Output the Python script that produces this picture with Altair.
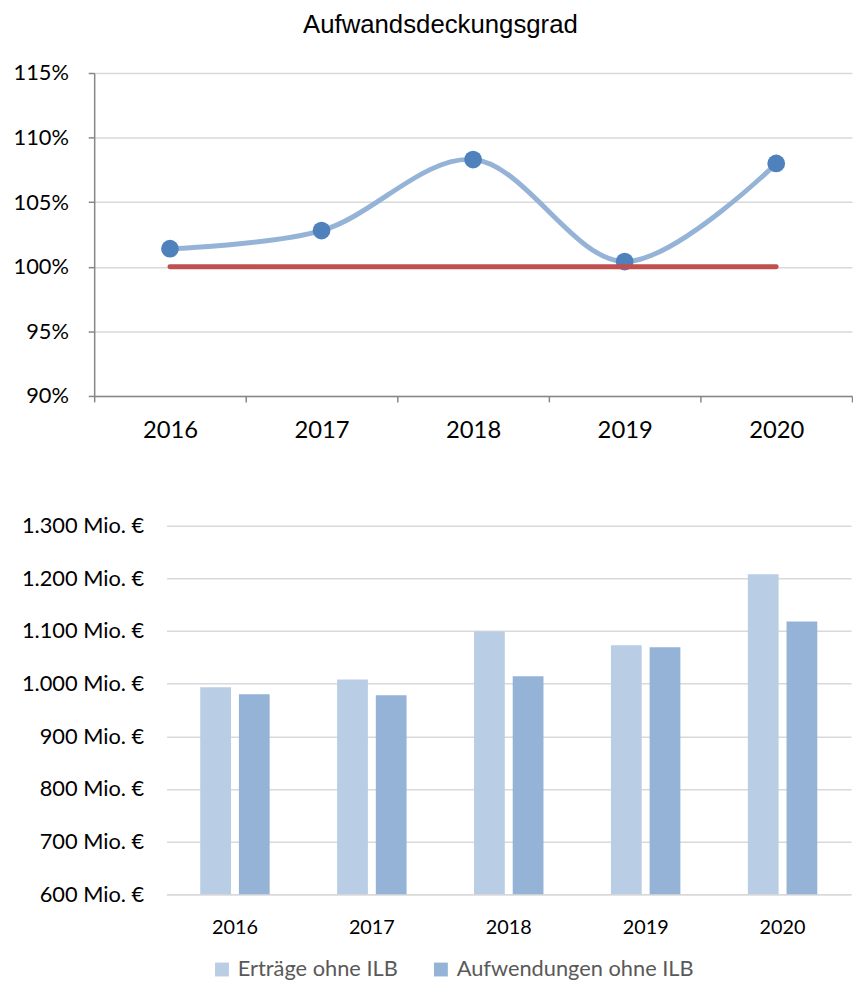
import altair as alt
import pandas as pd

# ---- data ----
years = ["2016", "2017", "2018", "2019", "2020"]
deckungsgrad = [101.4, 102.8, 108.3, 100.4, 108.0]   # Aufwandsdeckungsgrad in %
referenz = [100, 100, 100, 100, 100]                  # 100 %-Linie
pct_ticks = [90, 95, 100, 105, 110, 115]

series_names = ["Erträge ohne ILB", "Aufwendungen ohne ILB"]
ertraege = [993, 1008, 1099, 1073, 1208]               # Mio. €
aufwendungen = [980, 978, 1014, 1069, 1118]            # Mio. €
eur_ticks = [600, 700, 800, 900, 1000, 1100, 1200, 1300]
bar_colors = ["#B9CDE5", "#95B3D7"]

top_df = pd.DataFrame({"Jahr": years, "Grad": deckungsgrad, "Ref": referenz})
bar_df = pd.DataFrame({
    "Jahr": years * 2,
    "Serie": [series_names[0]] * len(years) + [series_names[1]] * len(years),
    "Wert": ertraege + aufwendungen,
})

# ---- top chart ----
x_top = alt.X(
    "Jahr:N", sort=years,
    scale=alt.Scale(paddingInner=0, paddingOuter=0),
    axis=alt.Axis(title=None, labelAngle=0, tickBand="extent", grid=False,
                  domainColor="#868686", domainWidth=1.5, tickColor="#868686",
                  tickWidth=1.5, tickSize=6, labelFont="Lato", labelFontSize=24,
                  labelColor="#000000", labelPadding=17),
)
y_scale_top = alt.Scale(domain=[90, 115], nice=False, zero=False)
y_top = alt.Y(
    "Grad:Q", scale=y_scale_top,
    axis=alt.Axis(title=None, values=pct_ticks, labelExpr="datum.value + '%'",
                  domainColor="#868686", domainWidth=1.5, tickColor="#868686",
                  tickWidth=1.5, tickSize=6, gridColor="#D9D9D9", gridWidth=1.5,
                  labelFont="Lato", labelFontSize=22, labelColor="#000000",
                  labelPadding=20),
)

base = alt.Chart(top_df).encode(x=x_top)
curve = base.mark_line(color="#95B3D7", strokeWidth=5, interpolate="catmull-rom").encode(y=y_top)
dots = base.mark_circle(color="#4F81BD", size=320, opacity=1).encode(y=alt.Y("Grad:Q", scale=y_scale_top))
ref = base.mark_line(color="#C0504D", strokeWidth=5, strokeCap="round").encode(
    y=alt.Y("Ref:Q", scale=y_scale_top))

top = alt.layer(curve, dots, ref).properties(
    width=765, height=326,
    title=alt.Title("Aufwandsdeckungsgrad", font="Liberation Sans", fontSize=26,
                    fontWeight="normal", color="#000000", anchor="middle",
                    dx=-33, offset=24),
)

# ---- bottom chart (plot shifted right inside its own group) ----
shift = 73
bottom = alt.Chart(bar_df).mark_bar().encode(
    x=alt.X("Jahr:N", sort=years,
            scale=alt.Scale(paddingInner=0, paddingOuter=0, range=[shift, shift + 691]),
            axis=alt.Axis(title=None, labelAngle=0, ticks=False, grid=False,
                          domainColor="#D9D9D9", domainWidth=1.5,
                          labelFont="Lato", labelFontSize=20, labelColor="#000000",
                          labelPadding=24)),
    xOffset=alt.XOffset("Serie:N", sort=series_names,
                        scale=alt.Scale(paddingInner=0.205, paddingOuter=0.872)),
    y=alt.Y("Wert:Q", scale=alt.Scale(domain=[600, 1300], nice=False, zero=False),
            axis=alt.Axis(title=None, values=eur_ticks, domain=False, ticks=False,
                          offset=-shift,
                          labelExpr="replace(format(datum.value, ','), ',', '.') + ' Mio. €'",
                          gridColor="#D9D9D9", gridWidth=1.5,
                          labelFont="Lato", labelFontSize=22, labelColor="#000000",
                          labelPadding=23)),
    y2=alt.datum(600),
    color=alt.Color("Serie:N", sort=series_names,
                    scale=alt.Scale(domain=series_names, range=bar_colors),
                    legend=alt.Legend(title=None, orient="none", direction="horizontal",
                                      legendX=118, legendY=437, padding=0,
                                      symbolType="square", symbolSize=196,
                                      symbolStrokeWidth=0, labelOffset=5,
                                      columnPadding=32, labelFont="Lato",
                                      labelFontSize=22, labelColor="#595959",
                                      labelLimit=0)),
).properties(width=shift + 691, height=372)

chart = alt.vconcat(top, bottom, spacing=73).resolve_scale(
    color="independent").resolve_legend(color="independent").configure(
    padding={"left": 5, "top": 0, "right": 0, "bottom": 0},
).configure_view(stroke=None)

chart.save("out.html", embed_options={"renderer": "svg", "actions": False})
